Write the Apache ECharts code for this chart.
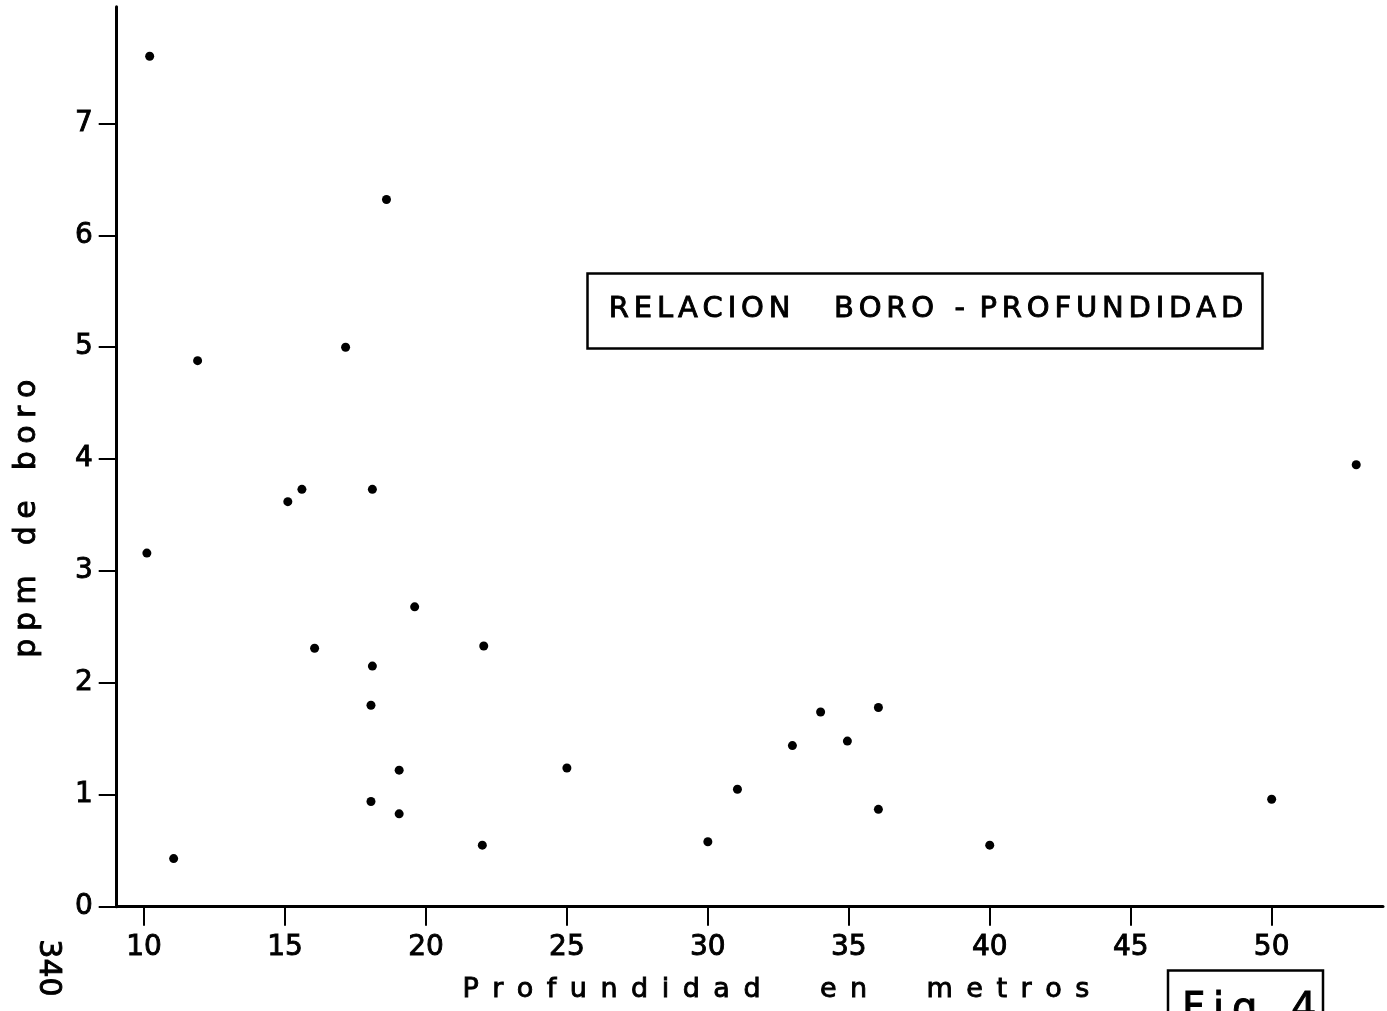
<!DOCTYPE html>
<html>
<head>
<meta charset="utf-8">
<script src="https://cdn.jsdelivr.net/npm/echarts@6/dist/echarts.min.js"></script>
<style>
  html, body { margin: 0; padding: 0; background: #ffffff; }
  #chart { width: 1387px; height: 1011px; }
</style>
</head>
<body>
<div id="chart"></div>
<script>
// Profundidad (m) y contenido de boro (ppm) de cada muestra
const depth = [10.2, 18.6, 17.15, 11.9, 10.1, 15.1, 15.6, 18.1, 19.6, 16.05,
               18.1, 18.05, 19.05, 18.05, 19.05, 11.05, 22.05, 22.0, 25.0, 30.0,
               31.05, 33.0, 34.0, 34.95, 36.05, 36.05, 40.0, 50.0, 53.0];
const boro = [7.6, 6.32, 5.0, 4.88, 3.16, 3.62, 3.73, 3.73, 2.68, 2.31,
              2.15, 1.80, 1.22, 0.94, 0.83, 0.43, 2.33, 0.55, 1.24, 0.58,
              1.05, 1.44, 1.74, 1.48, 1.78, 0.87, 0.55, 0.96, 3.95];

// Marcas de los ejes
const xTicks = [10, 15, 20, 25, 30, 35, 40, 45, 50];
const yTicks = [0, 1, 2, 3, 4, 5, 6, 7];

// Textos
const titleText = 'RELACION BORO - PROFUNDIDAD';
const xName = ['Profundidad', 'en', 'metros'];
const yName = ['ppm', 'de', 'boro'];
const figText = 'Fig. 4';
const pageText = '340';

// Rotulación espaciada, como la de plantilla
function spread(word, gap) { return word.split('').join(gap); }
const EN = '\u2002', EM = '\u2003', QUARTER = '\u2005', SIXTH = '\u2006', THIN = '\u2009';

const xNameText = xName.map(w => spread(w, EN)).join(EN.repeat(4) + THIN);
const yNameText = yName.map(w => spread(w, QUARTER)).join(QUARTER.repeat(4));
const titleWords = titleText.split(' ');
const titleLabel = spread(titleWords[0], SIXTH) + EM + EN +
                   spread(titleWords[1], SIXTH) + EN + THIN +
                   titleWords[2] + EN + spread(titleWords[3], SIXTH);
const figParts = figText.split(' ');
const figLabel = spread(figParts[0], THIN) + ' ' + figParts[1];

const points = depth.map((d, i) => [d, boro[i]]);

const chart = echarts.init(document.getElementById('chart'), null, { renderer: 'canvas' });

// Trazo de rotulador: un contorno fino engruesa las letras
const ink = { color: '#000', textBorderColor: '#000', textBorderWidth: 0.9 };
const numFont = Object.assign({ fontFamily: 'DejaVu Sans', fontSize: 28 }, ink);

chart.setOption({
  backgroundColor: '#ffffff',
  animation: false,
  grid: {
    left: 116.7, right: 4, top: 6.7, bottom: 104.3,
    containLabel: false,
    outerBoundsMode: 'none'
  },
  xAxis: {
    type: 'value',
    min: 9.03,
    max: 53.95,
    name: xNameText,
    nameLocation: 'middle',
    nameGap: 70,
    nameTextStyle: Object.assign({
      fontFamily: 'DejaVu Sans', fontSize: 27,
      padding: [0, 0, 0, 52]
    }, ink),
    axisLine: { onZero: false, lineStyle: { color: '#000', width: 3 } },
    axisTick: { show: true, inside: false, length: 19, customValues: xTicks,
                lineStyle: { color: '#000', width: 2 } },
    axisLabel: Object.assign({ margin: 27, customValues: xTicks }, numFont),
    splitLine: { show: false }
  },
  yAxis: {
    type: 'value',
    min: 0,
    max: 8.043,
    name: yNameText,
    nameLocation: 'middle',
    nameRotate: 90,
    nameGap: 74,
    nameTextStyle: Object.assign({
      fontFamily: 'DejaVu Sans', fontSize: 30,
      padding: [0, 124, 0, 0]
    }, ink),
    axisLine: { show: true, lineStyle: { color: '#000', width: 3 } },
    axisTick: { show: true, inside: false, length: 18, customValues: yTicks,
                lineStyle: { color: '#000', width: 2 } },
    axisLabel: Object.assign({ margin: 24, customValues: yTicks }, numFont),
    splitLine: { show: false }
  },
  series: [{
    type: 'scatter',
    data: points,
    symbol: 'circle',
    symbolSize: 9,
    itemStyle: { color: '#000', opacity: 1 },
    silent: true
  }],
  graphic: [
    {
      type: 'rect',
      shape: { x: 587.5, y: 273.5, width: 675, height: 75 },
      style: { fill: '#fff', stroke: '#000', lineWidth: 2.5 }
    },
    {
      type: 'text',
      x: 926, y: 309,
      style: {
        text: titleLabel, fill: '#000', stroke: '#000', lineWidth: 0.9,
        font: '29px "DejaVu Sans"',
        align: 'center', verticalAlign: 'middle'
      }
    },
    {
      type: 'rect',
      shape: { x: 1168, y: 970.5, width: 155, height: 80 },
      style: { fill: 'none', stroke: '#000', lineWidth: 2.5 }
    },
    {
      type: 'text',
      x: 1182, y: 1011,
      style: {
        text: figLabel, fill: '#000', stroke: '#000', lineWidth: 1,
        font: '40px "DejaVu Sans"',
        align: 'left', verticalAlign: 'middle'
      }
    },
    {
      type: 'text',
      x: 48, y: 968,
      rotation: -Math.PI / 2,
      style: {
        text: pageText, fill: '#000', stroke: '#000', lineWidth: 0.9,
        font: '30px "DejaVu Sans"',
        align: 'center', verticalAlign: 'middle'
      }
    }
  ]
});
</script>
</body>
</html>
